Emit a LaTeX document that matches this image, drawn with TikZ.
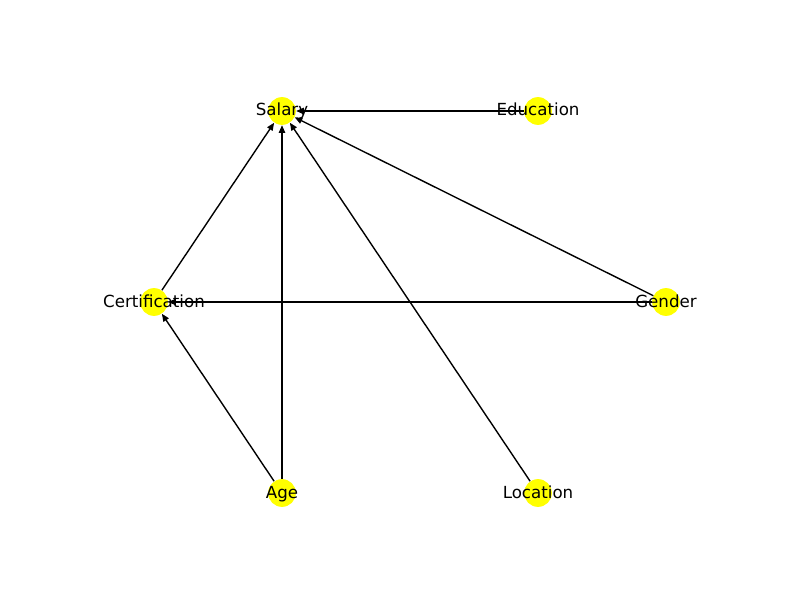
\documentclass[tikz,border=0pt]{standalone}
\usepackage{fontspec}
\setmainfont{DejaVu Sans}
\usetikzlibrary{arrows.meta}
\definecolor{nodeyellow}{RGB}{255,255,0}
\begin{document}
\begin{tikzpicture}[x=1pt,y=1pt,
  vtx/.style={circle,fill=nodeyellow,inner sep=0pt,minimum size=20pt},
  lbl/.style={font=\fontsize{12}{14}\selectfont,inner sep=0pt,anchor=base,yshift=-3.6pt},
  edge/.style={draw=black,line width=1pt,-{Triangle[length=5.5pt,width=4.5pt]}}]
\useasboundingbox (0,0) rectangle (576,432);
\node[vtx] (sal) at (203.04,352.08) {};
\node[vtx] (edu) at (387.36,352.08) {};
\node[vtx] (cer) at (110.88,214.56) {};
\node[vtx] (gen) at (479.52,214.56) {};
\node[vtx] (age) at (203.04,77.04) {};
\node[vtx] (loc) at (387.36,77.04) {};
\draw[edge] (edu) -- (sal);
\draw[edge] (cer) -- (sal);
\draw[edge] (age) -- (sal);
\draw[edge] (loc) -- (sal);
\draw[edge] (gen) -- (sal);
\draw[edge] (gen) -- (cer);
\draw[edge] (age) -- (cer);
\node[lbl] (tsal) at (sal) {Salary};
\node[lbl] (tedu) at (edu) {Education};
\node[lbl] (tcer) at (cer) {Certification};
\node[lbl] (tgen) at (gen) {Gender};
\node[lbl] (tage) at (age) {Age};
\node[lbl] (tloc) at (loc) {Location};
\end{tikzpicture}
\end{document}
